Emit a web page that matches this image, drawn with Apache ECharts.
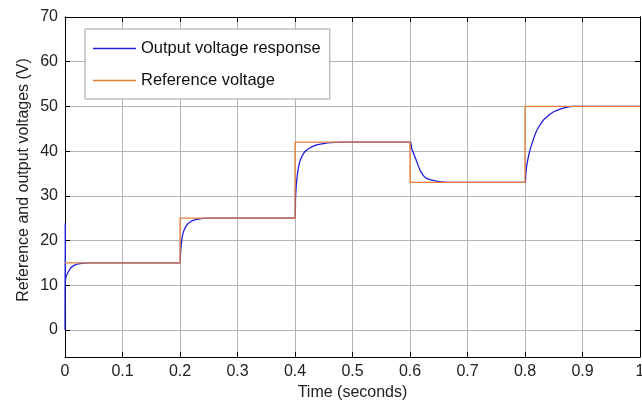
<!DOCTYPE html>
<html>
<head>
<meta charset="utf-8">
<script src="https://cdn.jsdelivr.net/npm/echarts@6/dist/echarts.min.js"></script>
<style>html,body{margin:0;padding:0;background:#fff;}#c{width:642px;height:403px;}</style>
</head>
<body>
<div id="c"></div>
<script>
const xTicks = [0, 0.1, 0.2, 0.3, 0.4, 0.5, 0.6, 0.7, 0.8, 0.9, 1];
const yTicks = [0, 10, 20, 30, 40, 50, 60, 70];

const refTimes  = [0, 0.2, 0.2, 0.4, 0.4, 0.6, 0.6, 0.8, 0.8, 1.0];
const refValues = [15, 15, 25, 25, 42, 42, 33, 33, 50, 50];

const outTimes = [
  0, 0.0004, 0.0008, 0.002, 0.005, 0.01, 0.015, 0.02, 0.03, 0.04, 0.2,
  0.201, 0.203, 0.205, 0.208, 0.212, 0.217, 0.223, 0.232, 0.245, 0.4,
  0.401, 0.403, 0.406, 0.409, 0.415, 0.421, 0.43, 0.438, 0.45, 0.461, 0.48, 0.6,
  0.603, 0.609, 0.617, 0.623, 0.629, 0.638, 0.646, 0.655, 0.665, 0.8,
  0.8015, 0.803, 0.806, 0.809, 0.815, 0.82, 0.83, 0.838, 0.85, 0.861, 0.872, 0.884, 1.0
];
const outValues = [
  0, 24, 11, 12, 12.8, 13.9, 14.4, 14.7, 14.9, 15, 15,
  17.5, 20, 21.5, 22.6, 23.5, 24.1, 24.5, 24.8, 25, 25,
  29.8, 33.5, 36.3, 37.9, 39.5, 40.3, 41.0, 41.4, 41.7, 41.9, 42, 42,
  40.6, 38.6, 35.9, 34.6, 33.9, 33.5, 33.3, 33.1, 33, 33,
  35, 36.8, 38.8, 40.4, 42.8, 44.5, 46.6, 47.7, 48.8, 49.4, 49.8, 50, 50
];

const pair = (xs, ys) => xs.map((x, i) => [x, ys[i]]);
const font = 'Liberation Sans, Arial, sans-serif';
const chart = echarts.init(document.getElementById('c'));
const tickStyle = {show: true, inside: true, length: 5, lineStyle: {color: '#000', width: 1}};
const lineStyle = {show: true, onZero: false, lineStyle: {color: '#000', width: 1}};
const gridColor = '#b4b4b4';
chart.setOption({
  animation: false,
  grid: [
    {left: 65, right: 2, top: 17, bottom: 73, containLabel: false, outerBoundsMode: 'none'},
    {left: 65, right: 2, top: 17, bottom: 46, containLabel: false, outerBoundsMode: 'none'}
  ],
  legend: {
    orient: 'vertical', left: 85, top: 29,
    padding: [11, 9, 10, 8], itemGap: 15, itemWidth: 43, itemHeight: 1.5,
    icon: 'rect',
    borderColor: '#a0a0a0', borderWidth: 1, backgroundColor: '#fff',
    textStyle: {fontFamily: font, fontSize: 16.5, color: '#111', height: 14, lineHeight: 14},
    data: ['Output voltage response', 'Reference voltage']
  },
  graphic: [{
    type: 'text', x: 24, y: 180, rotation: Math.PI / 2,
    style: {text: 'Reference and output voltages (V)', fontFamily: font, fontSize: 16,
      fill: '#222', align: 'center', verticalAlign: 'middle'}
  }],
  xAxis: [{
    gridIndex: 0, type: 'value', min: 0, max: 1, show: false
  }, {
    gridIndex: 1, type: 'value', min: 0, max: 1, interval: 0.1, position: 'bottom',
    name: 'Time (seconds)', nameLocation: 'middle', nameGap: 27,
    nameTextStyle: {fontFamily: font, fontSize: 16, color: '#222'},
    axisLine: lineStyle, axisTick: tickStyle,
    axisLabel: {fontFamily: font, fontSize: 16, color: '#222', margin: 7,
      formatter: v => String(+(+v).toFixed(1))},
    splitLine: {show: true, lineStyle: {color: gridColor, width: 1}}
  }, {
    gridIndex: 1, type: 'value', min: 0, max: 1, interval: 0.1, position: 'top',
    axisLine: lineStyle, axisTick: tickStyle, axisLabel: {show: false}, splitLine: {show: false}
  }],
  yAxis: [{
    gridIndex: 0, type: 'value', min: 0, max: 70, interval: 10, position: 'left',
    axisLine: lineStyle, axisTick: tickStyle,
    axisLabel: {fontFamily: font, fontSize: 16, color: '#222', margin: 7},
    splitLine: {show: true, lineStyle: {color: gridColor, width: 1}}
  }, {
    gridIndex: 0, type: 'value', min: 0, max: 70, interval: 10, position: 'right',
    axisLine: lineStyle, axisTick: tickStyle, axisLabel: {show: false}, splitLine: {show: false}
  }, {
    gridIndex: 1, type: 'value', min: -6, max: 70, position: 'left',
    axisLine: lineStyle, axisTick: {show: false}, axisLabel: {show: false}, splitLine: {show: false}
  }, {
    gridIndex: 1, type: 'value', min: -6, max: 70, position: 'right',
    axisLine: lineStyle, axisTick: {show: false}, axisLabel: {show: false}, splitLine: {show: false}
  }],
  series: [{
    name: 'Output voltage response', type: 'line', symbol: 'none', smooth: 0.3,
    xAxisIndex: 0, yAxisIndex: 0,
    lineStyle: {color: '#2020dc', width: 1.3}, itemStyle: {color: '#2020dc'},
    data: pair(outTimes, outValues), z: 2
  }, {
    name: 'Reference voltage', type: 'line', symbol: 'none',
    xAxisIndex: 0, yAxisIndex: 0,
    lineStyle: {color: '#e4803a', width: 1.3}, itemStyle: {color: '#e4803a'},
    data: pair(refTimes, refValues), z: 3
  }]
});
</script>
</body>
</html>
